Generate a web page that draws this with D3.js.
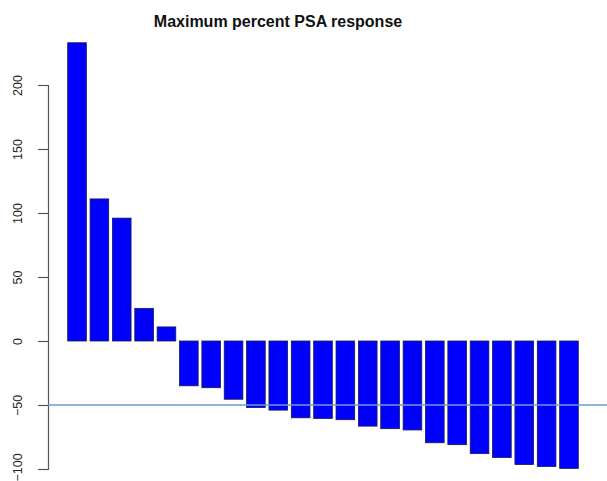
<!DOCTYPE html>
<html>
<head>
<meta charset="utf-8">
<script src="https://cdn.jsdelivr.net/npm/d3@7"></script>
<style>
  body { margin: 0; background: #fff; }
  svg { display: block; font-family: "Liberation Sans", Arial, sans-serif; }
</style>
</head>
<body>
<div id="chart"></div>
<script>
// data (one bar per patient, sorted)
const patients = d3.range(1, 24);
const psaChange = [233, 111, 96, 25.5, 11, -35, -36.5, -45.5, -52, -54, -60, -60.5, -61.5,
  -66.5, -68.5, -69.5, -79.5, -81, -88, -91, -96.5, -98, -99.5];
const yTicks = [-100, -50, 0, 50, 100, 150, 200];
const refLine = -50;

const width = 607, height = 481;

const svg = d3.select('#chart').append('svg')
    .attr('width', width)
    .attr('height', height);

const y = d3.scaleLinear()
    .domain([-100, 200])
    .range([469, 85]);

const x = d3.scaleBand()
    .domain(patients)
    .range([67.7, 578.3])
    .paddingInner(1 / 6)
    .paddingOuter(0);

// title
svg.append('text')
    .attr('x', 278)
    .attr('y', 27)
    .attr('text-anchor', 'middle')
    .attr('font-size', 16)
    .attr('font-weight', 'bold')
    .attr('fill', '#111')
    .text('Maximum percent PSA response');

// bars
svg.append('g')
  .selectAll('rect')
  .data(psaChange)
  .join('rect')
    .attr('x', (d, i) => x(patients[i]))
    .attr('width', x.bandwidth())
    .attr('y', d => y(Math.max(0, d)))
    .attr('height', d => Math.abs(y(d) - y(0)))
    .attr('fill', '#0000ff')
    .attr('stroke', '#1a1a4a')
    .attr('stroke-width', 0.8);

// y axis, R style
const axis = svg.append('g')
    .attr('transform', 'translate(48,0)')
    .call(d3.axisLeft(y).tickValues(yTicks).tickSize(10).tickPadding(8));

axis.select('.domain').attr('stroke', '#555').attr('stroke-width', 1.2);
axis.selectAll('.tick line').attr('stroke', '#555').attr('stroke-width', 1.2);
axis.selectAll('.tick text')
    .attr('font-size', 12.5)
    .attr('fill', '#222')
    .attr('transform', 'rotate(-90)')
    .attr('x', d => d === -100 ? 2 : 0)
    .attr('y', -30)
    .attr('dy', '0.35em')
    .attr('text-anchor', 'middle');

// -50% reference line
svg.append('line')
    .attr('x1', 48)
    .attr('x2', width)
    .attr('y1', y(refLine))
    .attr('y2', y(refLine))
    .attr('stroke', '#6a9bd8')
    .attr('stroke-width', 1.5);
</script>
</body>
</html>
